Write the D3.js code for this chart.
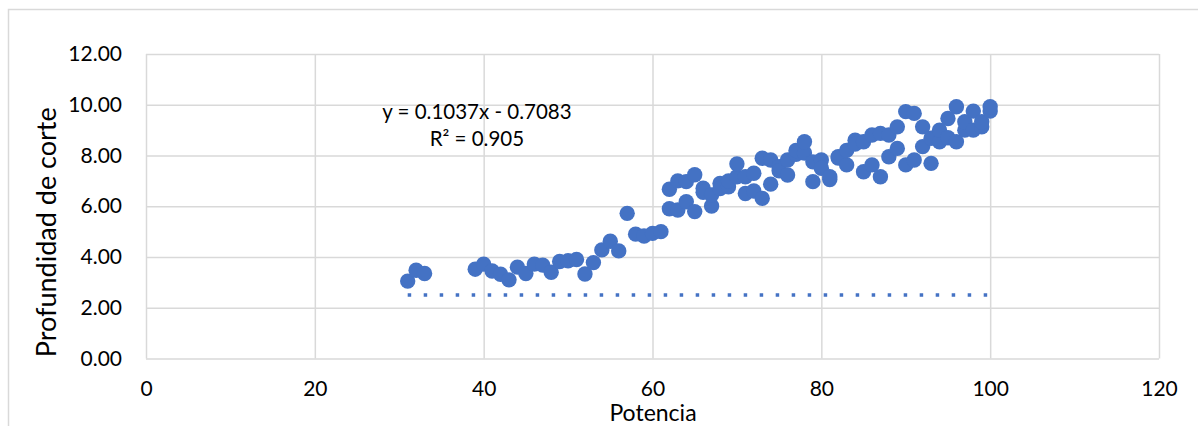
<!DOCTYPE html>
<html>
<head>
<meta charset="utf-8">
<script src="https://cdn.jsdelivr.net/npm/d3@7"></script>
<style>
  body { margin: 0; background: #fff; }
  svg { display: block; }
  text { font-family: Lato, "Open Sans", sans-serif; fill: #000; }
</style>
</head>
<body>
<div id="chart"></div>
<script>
const potencia = [31, 32, 33, 39, 40, 41, 42, 43, 44, 45, 46, 47, 48, 49, 50, 51, 52, 53, 54, 55, 56, 57, 58, 59, 60, 61,
  62, 62, 63, 63, 64, 64, 65, 65, 66, 66, 67, 67, 68, 68, 69, 69, 70, 70, 71, 71, 72, 72, 73, 73,
  74, 74, 75, 75, 76, 76, 77, 77, 78, 78, 79, 79, 80, 80, 81, 81, 82, 82, 83, 83, 84, 84, 85, 85,
  86, 86, 87, 87, 88, 88, 89, 89, 90, 90, 91, 91, 92, 92, 93, 93, 94, 94, 95, 95, 96, 96, 97, 97,
  98, 98, 99, 99, 100, 100];
const profundidad = [3.05, 3.48, 3.35, 3.52, 3.72, 3.45, 3.32, 3.1, 3.6, 3.35, 3.72, 3.68, 3.4, 3.82, 3.85, 3.9, 3.33, 3.78, 4.28, 4.62, 4.24, 5.72, 4.9, 4.83, 4.93, 5.0,
  5.9, 6.67, 5.85, 7.0, 6.18, 6.97, 5.79, 7.24, 6.71, 6.55, 6.01, 6.45, 6.9, 6.7, 6.77, 7.0, 7.16, 7.67, 6.5, 7.16, 6.6, 7.3, 6.31, 7.89,
  6.87, 7.82, 7.56, 7.4, 7.23, 7.82, 8.05, 8.2, 8.1, 8.54, 6.97, 7.75, 7.82, 7.5, 7.05, 7.16, 7.95, 7.9, 7.63, 8.2, 8.6, 8.45, 7.36, 8.54,
  7.63, 8.81, 7.16, 8.87, 7.95, 8.81, 8.28, 9.13, 7.63, 9.73, 7.82, 9.66, 8.35, 9.13, 7.69, 8.68, 8.54, 9.0, 8.7, 9.46, 8.54, 9.92, 9.0, 9.33,
  9.0, 9.75, 9.13, 9.33, 9.75, 9.92];

const xTicks = [0, 20, 40, 60, 80, 100, 120];
const yTicks = [0, 2, 4, 6, 8, 10, 12];
const lineX = [31, 100];
const lineY = 2.5;
const equation = ['y = 0.1037x - 0.7083', 'R² = 0.905'];
const eqPos = [39.2, 9.45];

const width = 1198;
const height = 426;
const margin = { top: 54, left: 146 };
const plotW = 1013;
const plotH = 304.5;
const blue = '#4472C4';
const grey = '#d9d9d9';

const svg = d3.select('#chart')
  .append('svg')
  .attr('width', width)
  .attr('height', height);

// outer chart border (cut off at right and bottom)
svg.append('rect')
  .attr('x', 8.5).attr('y', 9.5)
  .attr('width', 1400).attr('height', 600)
  .attr('fill', 'none')
  .attr('stroke', grey)
  .attr('stroke-width', 1.5);

const g = svg.append('g').attr('transform', `translate(${margin.left},${margin.top})`);

const x = d3.scaleLinear().domain([0, 120]).range([0, plotW]);
const y = d3.scaleLinear().domain([0, 12]).range([plotH, 0]);

// gridlines
g.append('g')
  .call(d3.axisLeft(y).tickValues(yTicks).tickSize(-plotW).tickFormat(''))
  .call(s => s.select('.domain').remove())
  .selectAll('line').attr('stroke', grey).attr('stroke-width', 1.5);

g.append('g')
  .attr('transform', `translate(0,${plotH})`)
  .call(d3.axisBottom(x).tickValues(xTicks).tickSize(-plotH).tickFormat(''))
  .call(s => s.select('.domain').remove())
  .selectAll('line').attr('stroke', grey).attr('stroke-width', 1.5);

// tick labels
const yAxis = g.append('g')
  .call(d3.axisLeft(y).tickValues(yTicks).tickSize(0).tickPadding(24).tickFormat(d3.format('.2f')));
yAxis.select('.domain').remove();
yAxis.selectAll('text').style('font-size', '21px').style('font-family', 'Lato');

const xAxis = g.append('g')
  .attr('transform', `translate(0,${plotH})`)
  .call(d3.axisBottom(x).tickValues(xTicks).tickSize(0).tickPadding(23));
xAxis.select('.domain').remove();
xAxis.selectAll('text').style('font-size', '21px').style('font-family', 'Lato');

// dotted line
g.append('line')
  .attr('x1', x(lineX[0])).attr('x2', x(lineX[1]))
  .attr('y1', y(lineY)).attr('y2', y(lineY))
  .attr('stroke', blue)
  .attr('stroke-width', 3.5)
  .attr('stroke-dasharray', '3.5,12.5');

// points
g.selectAll('circle')
  .data(potencia)
  .enter()
  .append('circle')
  .attr('cx', d => x(d))
  .attr('cy', (d, i) => y(profundidad[i]))
  .attr('r', 7.7)
  .attr('fill', blue);

// equation label
g.append('text')
  .attr('x', x(eqPos[0]))
  .attr('y', y(eqPos[1]))
  .attr('text-anchor', 'middle')
  .style('font-size', '20.5px')
  .selectAll('tspan')
  .data(equation)
  .enter()
  .append('tspan')
  .attr('x', x(eqPos[0]))
  .attr('dy', (d, i) => i === 0 ? 0 : 27)
  .text(d => d);

// axis titles
svg.append('text')
  .attr('transform', `translate(56,${margin.top + plotH / 2 + 26}) rotate(-90)`)
  .attr('text-anchor', 'middle')
  .style('font-size', '27px')
  .text('Profundidad de corte');

svg.append('text')
  .attr('x', 653)
  .attr('y', 421)
  .attr('text-anchor', 'middle')
  .style('font-size', '23px')
  .text('Potencia');
</script>
</body>
</html>
